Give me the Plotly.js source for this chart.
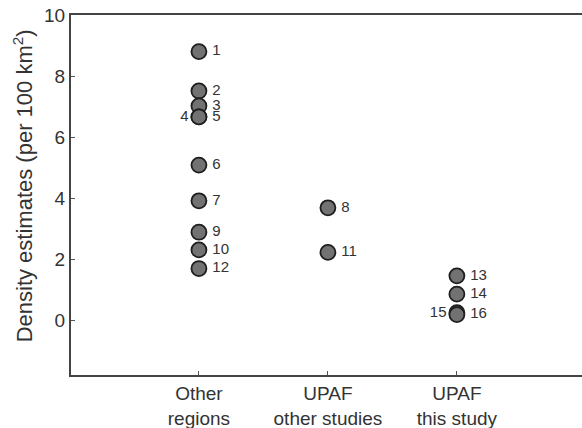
<!DOCTYPE html>
<html><head><meta charset="utf-8">
<script src="https://cdn.plot.ly/plotly-3.0.1.min.js"></script>
<style>html,body{margin:0;padding:0;background:#fff}#c{width:582px;height:428px}</style>
</head><body><div id="c"></div>
<script>
const categories = ["Other<br>regions", "UPAF<br>other studies", "UPAF<br>this study"];
const pointGroup = [1, 1, 1, 1, 1, 1, 1, 2, 1, 1, 2, 1, 3, 3, 3, 3];
const pointValue = [8.80, 7.51, 7.02, 6.66, 6.66, 5.08, 3.91, 3.68, 2.88, 2.30, 2.22, 1.69, 1.45, 0.85, 0.24, 0.18];
const pointLabel = ["1","2","3","4","5","6","7","8","9","10","11","12","13","14","15","16"];
const leftLabels = ["4", "15"];
const yTicks = [0, 2, 4, 6, 8, 10];
const yTitle = "Density estimates (per 100 km<sup>2</sup>)";

const FONT = "Arial, 'Liberation Sans', sans-serif";
const trace = {
  type: "scatter",
  mode: "markers+text",
  x: pointGroup,
  y: pointValue,
  text: pointLabel.map(l => leftLabels.includes(l) ? l : "\u2009" + l),
  textposition: pointLabel.map(l => leftLabels.includes(l) ? "middle left" : "middle right"),
  textfont: {family: FONT, size: 15, color: "#333"},
  marker: {size: 15, color: "#727272", line: {color: "#1e1e1e", width: 1.8}},
  cliponaxis: false,
  hoverinfo: "none"
};
const layout = {
  width: 582, height: 428,
  margin: {l: 71, r: 0, t: 15, b: 53},
  paper_bgcolor: "#fff", plot_bgcolor: "#fff",
  showlegend: false,
  font: {family: FONT, color: "#333"},
  xaxis: {
    range: [0.008, 3.97], tickvals: [1, 2, 3], ticktext: categories,
    ticks: "inside", ticklen: 4, tickwidth: 1, tickcolor: "#555",
    showline: true, linecolor: "#444", linewidth: 2, mirror: true,
    showgrid: false, zeroline: false,
    tickfont: {family: FONT, size: 19, color: "#333"}
  },
  yaxis: {
    range: [-1.8, 10], tickvals: yTicks,
    ticks: "inside", ticklen: 4, tickwidth: 1, tickcolor: "#555",
    showline: true, linecolor: "#444", linewidth: 2, mirror: false,
    showgrid: false, zeroline: false,
    tickfont: {family: FONT, size: 19, color: "#333"}
  },
  annotations: [{
    text: yTitle, textangle: -90, showarrow: false,
    xref: "paper", yref: "paper", x: -48 / 511, y: 0.524,
    xanchor: "center", yanchor: "middle",
    font: {family: FONT, size: 22, color: "#333"}
  }]
};
Plotly.newPlot("c", [trace], layout, {displayModeBar: false, staticPlot: true});
</script></body></html>
